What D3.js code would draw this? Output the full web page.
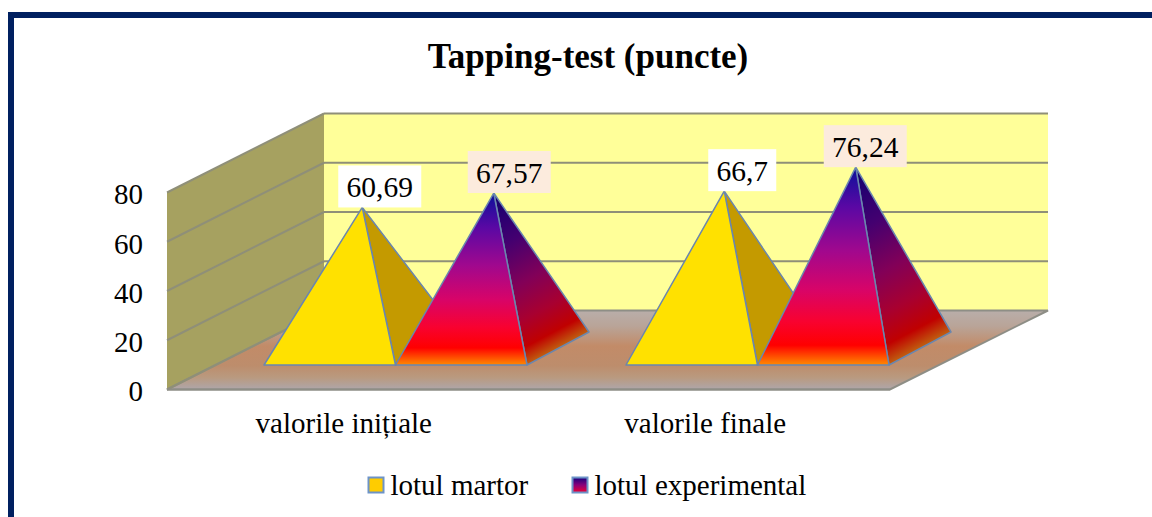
<!DOCTYPE html>
<html lang="ro">
<head>
<meta charset="utf-8">
<title>Tapping-test</title>
<script src="https://cdn.jsdelivr.net/npm/d3@7"></script>
<style>
  html, body { margin: 0; padding: 0; background: #fff; }
  svg { display: block; }
  text { font-family: "Liberation Serif", serif; fill: #000; }
</style>
</head>
<body>
<div id="chart"></div>
<script>
// values
var categories = ["valorile inițiale", "valorile finale"]
var series = ["lotul martor", "lotul experimental"]
var martor = [60.69, 66.7]
var experimental = [67.57, 76.24]
var martorLabels = ["60,69", "66,7"]
var experimentalLabels = ["67,57", "76,24"]
var yTicks = [0, 20, 40, 60, 80]

// hand placement of the pyramids tips and labels, in drawing order
var apexNudge = [0, 2.5, -1.5, -2]
var labelShift = [17.5, 15.5, 18, 9.5]

var w = 1152, h = 517
var svg = d3.select("#chart").append("svg").attr("width", w).attr("height", h)
var defs = svg.append("defs")

// depth of the 3d box, and of a pyramid base
var depth = { x: 157, y: -79 }
var baseDepth = { x: 62, y: -33 }
var baseY = 365
var apexLift = 32.6

var y = d3.scaleLinear().domain([0, 80]).range([389.5, 192.5])
var x0 = d3.scaleBand().domain(categories).range([165, 988]).padding(0.2735)
var x1 = d3.scaleBand().domain(series).range([0, x0.bandwidth()])
var xLabels = d3.scaleBand().domain(categories).range([163, 886])

function gradient(id, stops, attrs) {
    var g = defs.append("linearGradient").attr("id", id)
    Object.keys(attrs).forEach(function (k) { g.attr(k, attrs[k]) })
    stops.forEach(function (s) {
        g.append("stop").attr("offset", s[0]).attr("stop-color", s[1])
    })
}

var vertical = { x1: 0, y1: 0, x2: 0, y2: 1 }
gradient("floor", [[0, "#b9aeaa"], [0.2, "#b9a498"], [0.45, "#c28b68"], [0.7, "#bd8d6c"], [0.85, "#b99a80"], [1, "#aea6aa"]], vertical)
gradient("legendExp", [[0, "#14007e"], [0.5, "#8a007a"], [1, "#f00030"]], vertical)

var frontStops = [[0, "#0a109a"], [0.2, "#5a08a4"], [0.42, "#a0088e"], [0.62, "#d80468"], [0.78, "#f80230"], [0.9, "#ff0000"], [1, "#ff8a00"]]
var sideStops = [[0, "#100070"], [0.3, "#440070"], [0.55, "#820058"], [0.75, "#a80030"], [0.9, "#c00000"], [1, "#c06010"]]

// back wall
var backX0 = 324, backX1 = 1048
svg.append("rect")
    .attr("x", backX0).attr("y", y(80) + depth.y)
    .attr("width", backX1 - backX0).attr("height", y(0) - y(80))
    .attr("fill", "#ffff99")

// left wall
var wallPts = [[167, y(0)], [167, y(80)], [167 + depth.x, y(80) + depth.y], [167 + depth.x, y(0) + depth.y]]
svg.append("polygon")
    .attr("points", wallPts.join(" "))
    .attr("fill", "#a6a160")

// floor
var floorPts = [[167, y(0)], [890, y(0)], [1048, y(0) + depth.y], [324, y(0) + depth.y]]
svg.append("polygon")
    .attr("points", floorPts.join(" "))
    .attr("fill", "url(#floor)")
    .attr("stroke", "#8e8e86").attr("stroke-width", 2)

// gridlines
var gridColor = "#8f8f78"
svg.selectAll(".backGrid").data(yTicks.slice(1)).enter().append("line")
    .attr("x1", backX0).attr("x2", backX1)
    .attr("y1", function (d) { return y(d) + depth.y })
    .attr("y2", function (d) { return y(d) + depth.y })
    .attr("stroke", gridColor).attr("stroke-width", 2)
svg.selectAll(".sideGrid").data(yTicks).enter().append("line")
    .attr("x1", 167).attr("x2", 167 + depth.x)
    .attr("y1", function (d) { return y(d) })
    .attr("y2", function (d) { return y(d) + depth.y })
    .attr("stroke", gridColor).attr("stroke-width", 2)
svg.append("line")
    .attr("x1", 167).attr("x2", 890).attr("y1", y(0)).attr("y2", y(0))
    .attr("stroke", "#8e8e86").attr("stroke-width", 2)

// pyramids, one series after the other so each one overlaps the previous
var rows = []
categories.forEach(function (c, i) {
    rows.push({ cat: c, s: series[0], v: martor[i], label: martorLabels[i], idx: rows.length })
    rows.push({ cat: c, s: series[1], v: experimental[i], label: experimentalLabels[i], idx: rows.length })
})

var edge = "#6a86ae"
rows.forEach(function (d) {
    var left = x0(d.cat) + x1(d.s)
    var right = left + x1.bandwidth()
    var apex = [(left + right) / 2 + baseDepth.x / 2 + 1.5, y(d.v) - apexLift + apexNudge[d.idx]]
    var back = [right + baseDepth.x, baseY + baseDepth.y]
    d.apex = apex
    var sideFill = "#c49a00", frontFill = "#ffe100"

    if (d.s === series[1]) {
        // side gradient runs from the apex straight down onto the base edge
        var ex = back[0] - right, ey = back[1] - baseY
        var t = ((apex[0] - right) * ex + (apex[1] - baseY) * ey) / (ex * ex + ey * ey)
        gradient("side" + d.idx, sideStops, {
            gradientUnits: "userSpaceOnUse",
            x1: apex[0], y1: apex[1], x2: right + t * ex, y2: baseY + t * ey
        })
        gradient("front" + d.idx, frontStops, {
            gradientUnits: "userSpaceOnUse",
            x1: 0, y1: apex[1], x2: 0, y2: baseY
        })
        sideFill = "url(#side" + d.idx + ")"
        frontFill = "url(#front" + d.idx + ")"
    }

    svg.append("polygon")
        .attr("points", [apex, [right, baseY], back].join(" "))
        .attr("fill", sideFill).attr("stroke", edge).attr("stroke-width", 1.5)
        .attr("stroke-linejoin", "round")
    svg.append("polygon")
        .attr("points", [apex, [left, baseY], [right, baseY]].join(" "))
        .attr("fill", frontFill).attr("stroke", edge).attr("stroke-width", 1.5)
        .attr("stroke-linejoin", "round")
})

// data labels
rows.forEach(function (d) {
    var exp = d.s === series[1]
    var bw = d.label.length > 4 ? 83 : 68
    var cx = d.apex[0] + labelShift[d.idx]
    svg.append("rect")
        .attr("x", cx - bw / 2)
        .attr("y", d.apex[1] - 42)
        .attr("width", bw).attr("height", 42)
        .attr("fill", exp ? "#fcebdd" : "#ffffff")
    svg.append("text")
        .attr("x", cx)
        .attr("y", d.apex[1] - 10)
        .attr("text-anchor", "middle")
        .attr("font-size", 29.5)
        .text(d.label)
})

// axes
var yAxis = d3.axisLeft(y).tickValues(yTicks).tickSize(0).tickPadding(0)
var gy = svg.append("g").attr("transform", "translate(143,2)").call(yAxis)
gy.select(".domain").remove()
gy.selectAll("text").attr("font-size", 29).attr("font-family", "Liberation Serif").attr("fill", "#000")

var xAxis = d3.axisBottom(xLabels).tickSize(0).tickPadding(0)
var gx = svg.append("g").attr("transform", "translate(0,412)").call(xAxis)
gx.select(".domain").remove()
gx.selectAll("text").attr("font-size", 29).attr("font-family", "Liberation Serif").attr("fill", "#000")

// title
svg.append("text")
    .attr("x", 588).attr("y", 68)
    .attr("text-anchor", "middle")
    .attr("font-size", 35).attr("font-weight", "bold")
    .text("Tapping-test (puncte)")

// legend
var legendX = [368.5, 572.5]
series.forEach(function (s, i) {
    svg.append("rect")
        .attr("x", legendX[i]).attr("y", 477.5)
        .attr("width", 15).attr("height", 15)
        .attr("fill", i === 0 ? "#ffcc00" : "url(#legendExp)")
        .attr("stroke", "#6d93c8").attr("stroke-width", 2)
    svg.append("text")
        .attr("x", legendX[i] + 22).attr("y", 495)
        .attr("font-size", 29)
        .text(s)
})

// page border, top and left only
svg.append("rect").attr("x", 8).attr("y", 12).attr("width", w - 8).attr("height", 6).attr("fill", "#002060")
svg.append("rect").attr("x", 8).attr("y", 12).attr("width", 6).attr("height", h - 12).attr("fill", "#002060")
</script>
</body>
</html>
